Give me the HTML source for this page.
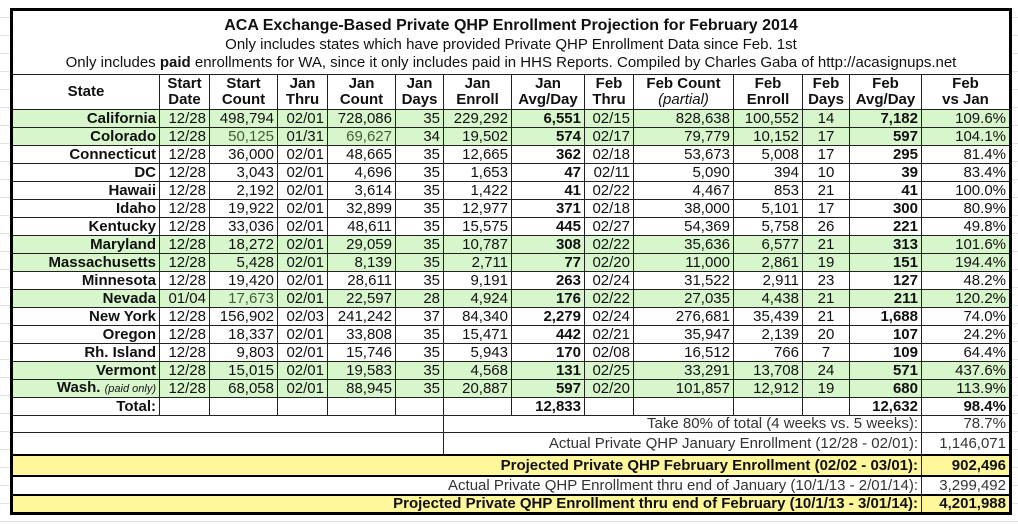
<!DOCTYPE html>
<html><head><meta charset="utf-8"><style>
html,body{margin:0;padding:0;width:1018px;height:524px;overflow:hidden;background:#fff;
background-image:repeating-linear-gradient(to bottom,transparent 0,transparent 17px,#e2e2e2 17px,#e2e2e2 18px);}
.wrap{position:absolute;left:10px;top:8px;}
table{border-collapse:collapse;table-layout:fixed;width:1001px;font-family:"Liberation Sans",Arial,sans-serif;font-size:15px;color:#111;border:3px solid #000;background:#fff}
td{border:1px solid #222;padding:0 3px;white-space:nowrap;overflow:hidden;line-height:16px;text-align:right}
tr.d td{height:17px}
.g td{background:#d8f6cc}
.b{font-weight:bold}
.c{text-align:center}
.h td{font-weight:bold;text-align:center;line-height:16px;height:34px}
.t td{text-align:center;border-bottom:1px solid #222}
.y td{background:#fff799;font-weight:bold;border-top:2px solid #000;border-bottom:2px solid #000}
.gr{color:#3f5e3a}
.a td{color:#333}
</style></head><body>
<div class="wrap"><table>
<colgroup><col style="width:148px"><col style="width:50px"><col style="width:68px"><col style="width:50px"><col style="width:68px"><col style="width:48px"><col style="width:68px"><col style="width:73px"><col style="width:49px"><col style="width:100px"><col style="width:69px"><col style="width:47px"><col style="width:72px"><col style="width:89px"></colgroup>
<tr class="t"><td colspan="14" style="height:63px;padding-top:0"><div style="font-weight:bold;font-size:16px;line-height:20px;margin-top:2px">ACA Exchange-Based Private QHP Enrollment Projection for February 2014</div><div style="line-height:17px">Only includes states which have provided Private QHP Enrollment Data since Feb. 1st</div><div style="line-height:19px">Only includes <b>paid</b> enrollments for WA, since it only includes paid in HHS Reports. Compiled by Charles Gaba of http://acasignups.net</div></td></tr>
<tr class="h"><td>State</td><td>Start<br>Date</td><td>Start<br>Count</td><td>Jan<br>Thru</td><td>Jan<br>Count</td><td>Jan<br>Days</td><td>Jan<br>Enroll</td><td>Jan<br>Avg/Day</td><td>Feb<br>Thru</td><td>Feb Count<br><i style="font-weight:normal">(partial)</i></td><td>Feb<br>Enroll</td><td>Feb<br>Days</td><td>Feb<br>Avg/Day</td><td>Feb<br>vs Jan</td></tr>
<tr class="d g"><td class="b">California</td><td>12/28</td><td>498,794</td><td>02/01</td><td>728,086</td><td>35</td><td>229,292</td><td class="b">6,551</td><td>02/15</td><td>828,638</td><td>100,552</td><td class="c">14</td><td class="b">7,182</td><td>109.6%</td></tr>
<tr class="d g"><td class="b">Colorado</td><td>12/28</td><td class="gr">50,125</td><td>01/31</td><td class="gr">69,627</td><td>34</td><td>19,502</td><td class="b">574</td><td>02/17</td><td>79,779</td><td>10,152</td><td class="c">17</td><td class="b">597</td><td>104.1%</td></tr>
<tr class="d"><td class="b">Connecticut</td><td>12/28</td><td>36,000</td><td>02/01</td><td>48,665</td><td>35</td><td>12,665</td><td class="b">362</td><td>02/18</td><td>53,673</td><td>5,008</td><td class="c">17</td><td class="b">295</td><td>81.4%</td></tr>
<tr class="d"><td class="b">DC</td><td>12/28</td><td>3,043</td><td>02/01</td><td>4,696</td><td>35</td><td>1,653</td><td class="b">47</td><td>02/11</td><td>5,090</td><td>394</td><td class="c">10</td><td class="b">39</td><td>83.4%</td></tr>
<tr class="d"><td class="b">Hawaii</td><td>12/28</td><td>2,192</td><td>02/01</td><td>3,614</td><td>35</td><td>1,422</td><td class="b">41</td><td>02/22</td><td>4,467</td><td>853</td><td class="c">21</td><td class="b">41</td><td>100.0%</td></tr>
<tr class="d"><td class="b">Idaho</td><td>12/28</td><td>19,922</td><td>02/01</td><td>32,899</td><td>35</td><td>12,977</td><td class="b">371</td><td>02/18</td><td>38,000</td><td>5,101</td><td class="c">17</td><td class="b">300</td><td>80.9%</td></tr>
<tr class="d"><td class="b">Kentucky</td><td>12/28</td><td>33,036</td><td>02/01</td><td>48,611</td><td>35</td><td>15,575</td><td class="b">445</td><td>02/27</td><td>54,369</td><td>5,758</td><td class="c">26</td><td class="b">221</td><td>49.8%</td></tr>
<tr class="d g"><td class="b">Maryland</td><td>12/28</td><td>18,272</td><td>02/01</td><td>29,059</td><td>35</td><td>10,787</td><td class="b">308</td><td>02/22</td><td>35,636</td><td>6,577</td><td class="c">21</td><td class="b">313</td><td>101.6%</td></tr>
<tr class="d g"><td class="b">Massachusetts</td><td>12/28</td><td>5,428</td><td>02/01</td><td>8,139</td><td>35</td><td>2,711</td><td class="b">77</td><td>02/20</td><td>11,000</td><td>2,861</td><td class="c">19</td><td class="b">151</td><td>194.4%</td></tr>
<tr class="d"><td class="b">Minnesota</td><td>12/28</td><td>19,420</td><td>02/01</td><td>28,611</td><td>35</td><td>9,191</td><td class="b">263</td><td>02/24</td><td>31,522</td><td>2,911</td><td class="c">23</td><td class="b">127</td><td>48.2%</td></tr>
<tr class="d g"><td class="b">Nevada</td><td>01/04</td><td class="gr">17,673</td><td>02/01</td><td>22,597</td><td>28</td><td>4,924</td><td class="b">176</td><td>02/22</td><td>27,035</td><td>4,438</td><td class="c">21</td><td class="b">211</td><td>120.2%</td></tr>
<tr class="d"><td class="b">New York</td><td>12/28</td><td>156,902</td><td>02/03</td><td>241,242</td><td>37</td><td>84,340</td><td class="b">2,279</td><td>02/24</td><td>276,681</td><td>35,439</td><td class="c">21</td><td class="b">1,688</td><td>74.0%</td></tr>
<tr class="d"><td class="b">Oregon</td><td>12/28</td><td>18,337</td><td>02/01</td><td>33,808</td><td>35</td><td>15,471</td><td class="b">442</td><td>02/21</td><td>35,947</td><td>2,139</td><td class="c">20</td><td class="b">107</td><td>24.2%</td></tr>
<tr class="d"><td class="b">Rh. Island</td><td>12/28</td><td>9,803</td><td>02/01</td><td>15,746</td><td>35</td><td>5,943</td><td class="b">170</td><td>02/08</td><td>16,512</td><td>766</td><td class="c">7</td><td class="b">109</td><td>64.4%</td></tr>
<tr class="d g"><td class="b">Vermont</td><td>12/28</td><td>15,015</td><td>02/01</td><td>19,583</td><td>35</td><td>4,568</td><td class="b">131</td><td>02/25</td><td>33,291</td><td>13,708</td><td class="c">24</td><td class="b">571</td><td>437.6%</td></tr>
<tr class="d g"><td><b>Wash.</b> <i style="font-size:11px">(paid only)</i></td><td>12/28</td><td>68,058</td><td>02/01</td><td>88,945</td><td>35</td><td>20,887</td><td class="b">597</td><td>02/20</td><td>101,857</td><td>12,912</td><td class="c">19</td><td class="b">680</td><td>113.9%</td></tr>
<tr class="d"><td class="b">Total:</td><td></td><td></td><td></td><td></td><td></td><td></td><td class="b">12,833</td><td></td><td></td><td></td><td></td><td class="b">12,632</td><td class="b">98.4%</td></tr>
<tr class="a"><td colspan="6" style="height:16px"></td><td colspan="7">Take 80% of total (4 weeks vs. 5 weeks):</td><td>78.7%</td></tr>
<tr class="a"><td colspan="6" style="height:21px"></td><td colspan="7">Actual Private QHP January Enrollment (12/28 - 02/01):</td><td>1,146,071</td></tr>
<tr class="y"><td colspan="13" style="height:19px">Projected Private QHP February Enrollment (02/02 - 03/01):</td><td>902,496</td></tr>
<tr class="a"><td colspan="13" style="height:17px">Actual Private QHP Enrollment thru end of January (10/1/13 - 2/01/14):</td><td>3,299,492</td></tr>
<tr class="y"><td colspan="13" style="height:16px">Projected Private QHP Enrollment thru end of February (10/1/13 - 3/01/14):</td><td>4,201,988</td></tr>
</table></div>
</body></html>
